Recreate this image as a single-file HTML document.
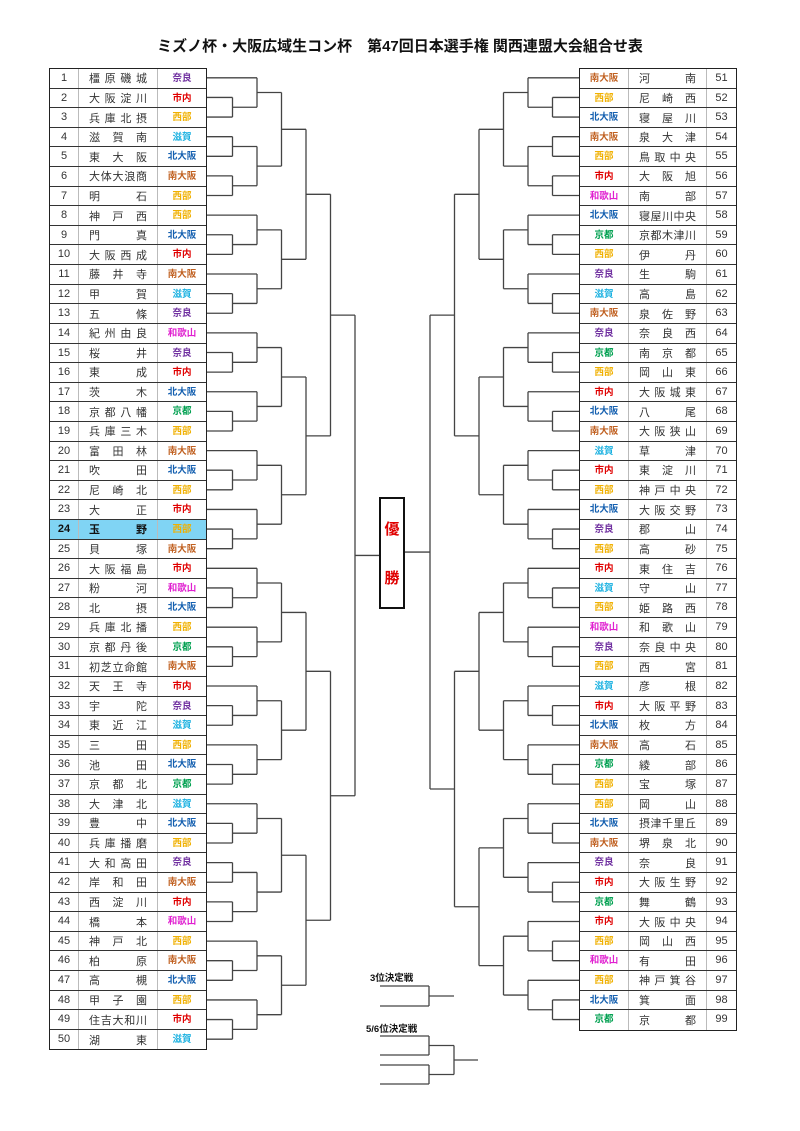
<!DOCTYPE html>
<html><head><meta charset="utf-8">
<style>
*{margin:0;padding:0;box-sizing:border-box}
body{width:800px;height:1131px;background:#fff;position:relative;font-family:"Liberation Sans","Noto Sans CJK JP",sans-serif;overflow:hidden}
.title{position:absolute;top:35px;left:0;width:800px;text-align:center;font-size:15px;font-weight:bold;color:#111;font-family:"Liberation Sans","Noto Sans CJK JP",sans-serif}
.tbl{position:absolute;border:1.3px solid #222;background:#fff}
.r{height:19.62px;display:flex;border-bottom:1px solid #333;font-size:11px;align-items:center;color:#333}
.r:last-child{border-bottom:none}
.r b{font-weight:normal;display:block;text-align:center;height:100%;line-height:19px}
.r i{font-style:normal;display:flex;justify-content:space-between;height:100%;align-items:center;padding:0 10px;border-left:1px solid #bbb;border-right:1px solid #bbb}
.r u{text-decoration:none;display:block;text-align:center;font-size:9.5px;font-weight:bold;line-height:19px;height:100%}
#L{left:49px;top:68px;width:158px}
#L b{width:28px;text-align:center}
#L i{width:80px}
#L u{width:48px}
#R{left:579px;top:68px;width:158px}
#R b{width:29px}
#R i{width:79px}
#R u{width:48px}
.hl{background:#80d4f4}
.hl b,.hl i{font-weight:bold!important;color:#111}
.nr{color:#7030a0}.sn{color:#e00000}.sb{color:#f0b000}.sg{color:#18b0e0}.kt{color:#1560b0}.mn{color:#c06020}.ky{color:#00a050}.wk{color:#e020d0}
.win{position:absolute;left:379px;top:497px;width:26px;height:112px;border:2px solid #111;background:#fff;color:#e00000;font-weight:bold;font-size:15px;text-align:center}
.lab{position:absolute;font-size:9.5px;font-weight:bold;color:#111}
svg{position:absolute;left:0;top:0}
</style></head><body>
<div class="title">ミズノ杯・大阪広域生コン杯　第47回日本選手権 関西連盟大会組合せ表</div>
<svg id="sv" width="800" height="1131"></svg>
<div class="tbl" id="L">
<div class="r"><b>1</b><i>橿原磯城</i><u class="nr">奈良</u></div>
<div class="r"><b>2</b><i>大阪淀川</i><u class="sn">市内</u></div>
<div class="r"><b>3</b><i>兵庫北摂</i><u class="sb">西部</u></div>
<div class="r"><b>4</b><i>滋賀南</i><u class="sg">滋賀</u></div>
<div class="r"><b>5</b><i>東大阪</i><u class="kt">北大阪</u></div>
<div class="r"><b>6</b><i>大体大浪商</i><u class="mn">南大阪</u></div>
<div class="r"><b>7</b><i>明石</i><u class="sb">西部</u></div>
<div class="r"><b>8</b><i>神戸西</i><u class="sb">西部</u></div>
<div class="r"><b>9</b><i>門真</i><u class="kt">北大阪</u></div>
<div class="r"><b>10</b><i>大阪西成</i><u class="sn">市内</u></div>
<div class="r"><b>11</b><i>藤井寺</i><u class="mn">南大阪</u></div>
<div class="r"><b>12</b><i>甲賀</i><u class="sg">滋賀</u></div>
<div class="r"><b>13</b><i>五條</i><u class="nr">奈良</u></div>
<div class="r"><b>14</b><i>紀州由良</i><u class="wk">和歌山</u></div>
<div class="r"><b>15</b><i>桜井</i><u class="nr">奈良</u></div>
<div class="r"><b>16</b><i>東成</i><u class="sn">市内</u></div>
<div class="r"><b>17</b><i>茨木</i><u class="kt">北大阪</u></div>
<div class="r"><b>18</b><i>京都八幡</i><u class="ky">京都</u></div>
<div class="r"><b>19</b><i>兵庫三木</i><u class="sb">西部</u></div>
<div class="r"><b>20</b><i>富田林</i><u class="mn">南大阪</u></div>
<div class="r"><b>21</b><i>吹田</i><u class="kt">北大阪</u></div>
<div class="r"><b>22</b><i>尼崎北</i><u class="sb">西部</u></div>
<div class="r"><b>23</b><i>大正</i><u class="sn">市内</u></div>
<div class="r hl"><b>24</b><i>玉野</i><u class="sb">西部</u></div>
<div class="r"><b>25</b><i>貝塚</i><u class="mn">南大阪</u></div>
<div class="r"><b>26</b><i>大阪福島</i><u class="sn">市内</u></div>
<div class="r"><b>27</b><i>粉河</i><u class="wk">和歌山</u></div>
<div class="r"><b>28</b><i>北摂</i><u class="kt">北大阪</u></div>
<div class="r"><b>29</b><i>兵庫北播</i><u class="sb">西部</u></div>
<div class="r"><b>30</b><i>京都丹後</i><u class="ky">京都</u></div>
<div class="r"><b>31</b><i>初芝立命館</i><u class="mn">南大阪</u></div>
<div class="r"><b>32</b><i>天王寺</i><u class="sn">市内</u></div>
<div class="r"><b>33</b><i>宇陀</i><u class="nr">奈良</u></div>
<div class="r"><b>34</b><i>東近江</i><u class="sg">滋賀</u></div>
<div class="r"><b>35</b><i>三田</i><u class="sb">西部</u></div>
<div class="r"><b>36</b><i>池田</i><u class="kt">北大阪</u></div>
<div class="r"><b>37</b><i>京都北</i><u class="ky">京都</u></div>
<div class="r"><b>38</b><i>大津北</i><u class="sg">滋賀</u></div>
<div class="r"><b>39</b><i>豊中</i><u class="kt">北大阪</u></div>
<div class="r"><b>40</b><i>兵庫播磨</i><u class="sb">西部</u></div>
<div class="r"><b>41</b><i>大和高田</i><u class="nr">奈良</u></div>
<div class="r"><b>42</b><i>岸和田</i><u class="mn">南大阪</u></div>
<div class="r"><b>43</b><i>西淀川</i><u class="sn">市内</u></div>
<div class="r"><b>44</b><i>橋本</i><u class="wk">和歌山</u></div>
<div class="r"><b>45</b><i>神戸北</i><u class="sb">西部</u></div>
<div class="r"><b>46</b><i>柏原</i><u class="mn">南大阪</u></div>
<div class="r"><b>47</b><i>高槻</i><u class="kt">北大阪</u></div>
<div class="r"><b>48</b><i>甲子園</i><u class="sb">西部</u></div>
<div class="r"><b>49</b><i>住吉大和川</i><u class="sn">市内</u></div>
<div class="r"><b>50</b><i>湖東</i><u class="sg">滋賀</u></div>
</div>
<div class="tbl" id="R">
<div class="r"><u class="mn">南大阪</u><i>河南</i><b>51</b></div>
<div class="r"><u class="sb">西部</u><i>尼崎西</i><b>52</b></div>
<div class="r"><u class="kt">北大阪</u><i>寝屋川</i><b>53</b></div>
<div class="r"><u class="mn">南大阪</u><i>泉大津</i><b>54</b></div>
<div class="r"><u class="sb">西部</u><i>鳥取中央</i><b>55</b></div>
<div class="r"><u class="sn">市内</u><i>大阪旭</i><b>56</b></div>
<div class="r"><u class="wk">和歌山</u><i>南部</i><b>57</b></div>
<div class="r"><u class="kt">北大阪</u><i>寝屋川中央</i><b>58</b></div>
<div class="r"><u class="ky">京都</u><i>京都木津川</i><b>59</b></div>
<div class="r"><u class="sb">西部</u><i>伊丹</i><b>60</b></div>
<div class="r"><u class="nr">奈良</u><i>生駒</i><b>61</b></div>
<div class="r"><u class="sg">滋賀</u><i>高島</i><b>62</b></div>
<div class="r"><u class="mn">南大阪</u><i>泉佐野</i><b>63</b></div>
<div class="r"><u class="nr">奈良</u><i>奈良西</i><b>64</b></div>
<div class="r"><u class="ky">京都</u><i>南京都</i><b>65</b></div>
<div class="r"><u class="sb">西部</u><i>岡山東</i><b>66</b></div>
<div class="r"><u class="sn">市内</u><i>大阪城東</i><b>67</b></div>
<div class="r"><u class="kt">北大阪</u><i>八尾</i><b>68</b></div>
<div class="r"><u class="mn">南大阪</u><i>大阪狭山</i><b>69</b></div>
<div class="r"><u class="sg">滋賀</u><i>草津</i><b>70</b></div>
<div class="r"><u class="sn">市内</u><i>東淀川</i><b>71</b></div>
<div class="r"><u class="sb">西部</u><i>神戸中央</i><b>72</b></div>
<div class="r"><u class="kt">北大阪</u><i>大阪交野</i><b>73</b></div>
<div class="r"><u class="nr">奈良</u><i>郡山</i><b>74</b></div>
<div class="r"><u class="sb">西部</u><i>高砂</i><b>75</b></div>
<div class="r"><u class="sn">市内</u><i>東住吉</i><b>76</b></div>
<div class="r"><u class="sg">滋賀</u><i>守山</i><b>77</b></div>
<div class="r"><u class="sb">西部</u><i>姫路西</i><b>78</b></div>
<div class="r"><u class="wk">和歌山</u><i>和歌山</i><b>79</b></div>
<div class="r"><u class="nr">奈良</u><i>奈良中央</i><b>80</b></div>
<div class="r"><u class="sb">西部</u><i>西宮</i><b>81</b></div>
<div class="r"><u class="sg">滋賀</u><i>彦根</i><b>82</b></div>
<div class="r"><u class="sn">市内</u><i>大阪平野</i><b>83</b></div>
<div class="r"><u class="kt">北大阪</u><i>枚方</i><b>84</b></div>
<div class="r"><u class="mn">南大阪</u><i>高石</i><b>85</b></div>
<div class="r"><u class="ky">京都</u><i>綾部</i><b>86</b></div>
<div class="r"><u class="sb">西部</u><i>宝塚</i><b>87</b></div>
<div class="r"><u class="sb">西部</u><i>岡山</i><b>88</b></div>
<div class="r"><u class="kt">北大阪</u><i>摂津千里丘</i><b>89</b></div>
<div class="r"><u class="mn">南大阪</u><i>堺泉北</i><b>90</b></div>
<div class="r"><u class="nr">奈良</u><i>奈良</i><b>91</b></div>
<div class="r"><u class="sn">市内</u><i>大阪生野</i><b>92</b></div>
<div class="r"><u class="ky">京都</u><i>舞鶴</i><b>93</b></div>
<div class="r"><u class="sn">市内</u><i>大阪中央</i><b>94</b></div>
<div class="r"><u class="sb">西部</u><i>岡山西</i><b>95</b></div>
<div class="r"><u class="wk">和歌山</u><i>有田</i><b>96</b></div>
<div class="r"><u class="sb">西部</u><i>神戸箕谷</i><b>97</b></div>
<div class="r"><u class="kt">北大阪</u><i>箕面</i><b>98</b></div>
<div class="r"><u class="ky">京都</u><i>京都</i><b>99</b></div>
</div>
<div class="win"><div style="position:absolute;top:19px;width:100%">優</div><div style="position:absolute;top:68px;width:100%">勝</div></div>
<div class="lab" style="left:370px;top:970px">3位決定戦</div>
<div class="lab" style="left:366px;top:1021px">5/6位決定戦</div>
<script>
document.querySelectorAll('.r i').forEach(function(e){var t=e.textContent;e.textContent='';for(var c of t){var s=document.createElement('span');s.textContent=c;e.appendChild(s);}});
var RH=19.62,T=68,out=[];
function ln(x1,y1,x2,y2){out.push('<line x1="'+x1+'" y1="'+y1+'" x2="'+x2+'" y2="'+y2+'"/>');}
function build(s,n,ov){
 if(n==1)return {leaf:true,y:T+RH*(s+0.5)};
 var a;
 if(ov&&ov.length){a=ov[0];}
 else if(n>=8)a=Math.ceil(n/2);else a=Math.floor(n/2);
 var c1=build(s,a,ov&&ov[1]),c2=build(s+a,n-a,ov&&ov[2]);
 return {c:[c1,c2],y:(c1.y+c2.y)/2};
}
function draw(nd,d,root,dir,edge){
 var x=root+dir*24.5*d;
 nd.c.forEach(function(ch){
  var cx=ch.leaf?edge:root+dir*24.5*(d+1);
  ln(cx,ch.y,x,ch.y);
  if(!ch.leaf)draw(ch,d+1,root,dir,edge);
 });
 ln(x,nd.c[0].y,x,nd.c[1].y);
}
var L=build(0,50,[25,[13],[12]]);
draw(L,0,355,-1,207);
var R=build(0,49,[25,[13],[12]]);
draw(R,0,430,1,579);
ln(355,L.y,379,L.y);ln(405,R.y,430,R.y);
ln(380,986,429,986);ln(380,1006,429,1006);ln(429,986,429,1006);ln(429,996,454,996);
ln(380,1036,429,1036);ln(380,1055,429,1055);ln(429,1036,429,1055);
ln(380,1065,429,1065);ln(380,1084,429,1084);ln(429,1065,429,1084);
ln(429,1045.5,454,1045.5);ln(429,1074.5,454,1074.5);ln(454,1045.5,454,1074.5);ln(454,1060,478,1060);
document.getElementById('sv').innerHTML='<g stroke="#444" stroke-width="1.3" fill="none">'+out.join('')+'</g>';
</script>
</body></html>
